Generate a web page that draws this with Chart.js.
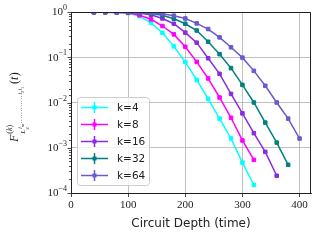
<!DOCTYPE html>
<html>
<head>
<meta charset="utf-8">
<script src="https://cdn.jsdelivr.net/npm/chart.js@4"></script>
<style>
  html, body { margin: 0; padding: 0; background: #fff; }
  #chart { display: block; }
</style>
</head>
<body>
<canvas id="chart" width="320" height="240"></canvas>
<script>
// circuit depth values, sampled every 20 steps
const DEPTHS = [40, 60, 80, 100, 120, 140, 160, 180, 200, 220, 240, 260, 280, 300, 320, 340, 360, 380, 400];

const K4  = [0.99, 0.985, 0.975, 0.95, 0.81, 0.575, 0.347, 0.174, 0.078, 0.0316, 0.012, 0.0044, 0.0016, 0.00047, 0.00015];
const K8  = [0.99, 0.985, 0.98, 0.96, 0.85, 0.69, 0.49, 0.32, 0.17, 0.079, 0.034, 0.0129, 0.0046, 0.00145, 0.00054];
const K16 = [0.99, 0.99, 0.985, 0.975, 0.94, 0.87, 0.72, 0.55, 0.35, 0.21, 0.095, 0.043, 0.0155, 0.00575, 0.0021, 0.00081, 0.00024];
const K32 = [0.99, 0.99, 0.99, 0.985, 0.97, 0.93, 0.85, 0.71, 0.55, 0.39, 0.22, 0.117, 0.0575, 0.0245, 0.01, 0.0036, 0.0013, 0.00042];
const K64 = [0.995, 0.99, 0.99, 0.99, 0.98, 0.955, 0.91, 0.83, 0.72, 0.56, 0.42, 0.275, 0.166, 0.098, 0.05, 0.0234, 0.01, 0.0044, 0.0016];

const SERIES = [
  { label: 'k=4',  data: K4,  color: '#00ffff' },
  { label: 'k=8',  data: K8,  color: '#ff00ff' },
  { label: 'k=16', data: K16, color: '#8a2be2' },
  { label: 'k=32', data: K32, color: '#008080' },
  { label: 'k=64', data: K64, color: '#6a5acd' },
];

const Y_EXPONENTS = [0, -1, -2, -3, -4];
const X_TICKS = [0, 100, 200, 300, 400];

const SERIF = '"Liberation Serif", "DejaVu Serif", serif';
const SANS = '"DejaVu Sans", "Open Sans", sans-serif';
const INK = '#222';

function put(ctx, text, font, x, y) {
  ctx.font = font;
  ctx.fillText(text, x, y);
  return x + ctx.measureText(text).width;
}

// y tick labels as 10^n, tick marks, top/right spines, rotated y label, legend
const decorPlugin = {
  id: 'decor',
  afterDraw(chart) {
    const ctx = chart.ctx;
    const a = chart.chartArea;
    const y = chart.scales.y;
    ctx.save();

    ctx.strokeStyle = INK;
    ctx.lineWidth = 1;
    ctx.beginPath();
    ctx.moveTo(a.left, a.top + 0.5);
    ctx.lineTo(a.right - 0.5, a.top + 0.5);
    ctx.lineTo(a.right - 0.5, a.bottom);
    ctx.stroke();

    // minor + major tick marks on the log axis
    ctx.lineWidth = 0.8;
    y.ticks.forEach((t) => {
      const py = Math.round(y.getPixelForValue(t.value)) + 0.5;
      const len = t.major ? 3.5 : 2;
      ctx.beginPath();
      ctx.moveTo(a.left, py);
      ctx.lineTo(a.left - len, py);
      ctx.stroke();
    });

    ctx.fillStyle = INK;
    ctx.textBaseline = 'middle';
    Y_EXPONENTS.forEach((e) => {
      const py = y.getPixelForValue(Math.pow(10, e));
      const ex = e === 0 ? '0' : '\u2212' + Math.abs(e);
      ctx.font = '8px ' + SERIF;
      const ew = ctx.measureText(ex).width;
      const right = a.left - 4;
      ctx.textAlign = 'left';
      ctx.fillText(ex, right - ew, py - 4);
      ctx.font = '11px ' + SERIF;
      ctx.textAlign = 'right';
      ctx.fillText('10', right - ew, py + 0.5);
    });

    // F^{(k)}_{L_2^{i_m...i_2 i_1}}(t), rotated
    ctx.translate(18, 142);
    ctx.rotate(-Math.PI / 2);
    ctx.textAlign = 'left';
    ctx.textBaseline = 'alphabetic';
    let x = put(ctx, 'F', 'italic 12px ' + SERIF, 0, 0) + 1;
    let xs = put(ctx, '(', '8px ' + SERIF, x, -6);
    xs = put(ctx, 'k', 'italic 8px ' + SERIF, xs, -6);
    put(ctx, ')', '8px ' + SERIF, xs, -6);
    let xl = put(ctx, 'L', 'italic 7px ' + SERIF, x, 7);
    put(ctx, '2', '5px ' + SERIF, xl, 11);
    let xi = put(ctx, 'i', 'italic 5.5px ' + SERIF, xl + 1, 4);
    xi = put(ctx, 'm', 'italic 4px ' + SERIF, xi, 5.5) + 1;
    ctx.font = '5.5px ' + SERIF;
    for (let d = 0; d < 12; d++) {
      ctx.fillText('.', xi, 4);
      xi += 2.4;
    }
    xi = put(ctx, 'i', 'italic 5.5px ' + SERIF, xi, 4);
    xi = put(ctx, '2', '4px ' + SERIF, xi, 5.5);
    xi = put(ctx, 'i', 'italic 5.5px ' + SERIF, xi + 0.5, 4);
    xi = put(ctx, '1', '4px ' + SERIF, xi, 5.5);
    x = Math.max(xi, xs) + 3;
    x = put(ctx, '(', '12px ' + SERIF, x, 0);
    x = put(ctx, 't', 'italic 12px ' + SERIF, x, 0) + 0.5;
    put(ctx, ')', '12px ' + SERIF, x, 0);
    ctx.restore();

    // legend with error-bar style handles
    ctx.save();
    const bx = 77.5, by = 97.5, bw = 72, bh = 88;
    ctx.fillStyle = 'rgba(255,255,255,0.8)';
    ctx.strokeStyle = '#cccccc';
    ctx.lineWidth = 1;
    ctx.beginPath();
    ctx.roundRect(bx, by, bw, bh, 3);
    ctx.fill();
    ctx.stroke();
    ctx.font = '10.5px ' + SANS;
    ctx.textBaseline = 'middle';
    ctx.textAlign = 'left';
    SERIES.forEach((s, i) => {
      const ly = 107.5 + i * 17;
      ctx.strokeStyle = s.color;
      ctx.lineWidth = 1.5;
      ctx.beginPath();
      ctx.moveTo(81, ly);
      ctx.lineTo(108, ly);
      ctx.moveTo(94.5, ly - 5.5);
      ctx.lineTo(94.5, ly + 5.5);
      ctx.stroke();
      ctx.fillStyle = s.color;
      ctx.fillRect(92.5, ly - 2, 4, 4);
      ctx.fillStyle = INK;
      ctx.fillText(s.label, 117, ly + 1);
    });
    ctx.restore();
  },
};

const datasets = SERIES.map((s, i) => ({
  label: s.label,
  data: s.data.map((v, j) => ({ x: DEPTHS[j], y: v })),
  borderColor: s.color,
  backgroundColor: s.color,
  borderWidth: 1.5,
  pointStyle: 'rect',
  pointRadius: 2.5,
  pointBorderWidth: 1,
  tension: 0,
  order: SERIES.length - i,
}));

new Chart(document.getElementById('chart').getContext('2d'), {
  type: 'line',
  data: { datasets },
  plugins: [decorPlugin],
  options: {
    responsive: false,
    animation: false,
    devicePixelRatio: 1,
    layout: { padding: { left: 0, right: 9, top: 12, bottom: 0 } },
    plugins: { legend: { display: false }, tooltip: { enabled: false } },
    scales: {
      x: {
        type: 'linear',
        min: 0,
        max: 420,
        afterBuildTicks: (scale) => {
          scale.ticks = X_TICKS.map((v) => ({ value: v }));
        },
        afterFit: (scale) => { scale.height = 47; },
        grid: { color: '#b0b0b0', lineWidth: 0.8, tickColor: INK, tickLength: 4 },
        border: { color: INK, width: 1 },
        ticks: { color: INK, font: { family: SERIF, size: 11 }, padding: 2, maxRotation: 0 },
        title: {
          display: true,
          text: 'Circuit Depth (time)',
          color: INK,
          font: { family: SANS, size: 12 },
          padding: { top: 2, bottom: 9 },
        },
      },
      y: {
        type: 'logarithmic',
        min: 1e-4,
        max: 1,
        afterFit: (scale) => { scale.width = 71; },
        grid: {
          color: (c) => (c.tick && c.tick.major ? '#b0b0b0' : 'rgba(0,0,0,0)'),
          lineWidth: 0.8,
          drawTicks: false,
        },
        border: { color: INK, width: 1 },
        ticks: { display: false },
      },
    },
  },
});
</script>
</body>
</html>
